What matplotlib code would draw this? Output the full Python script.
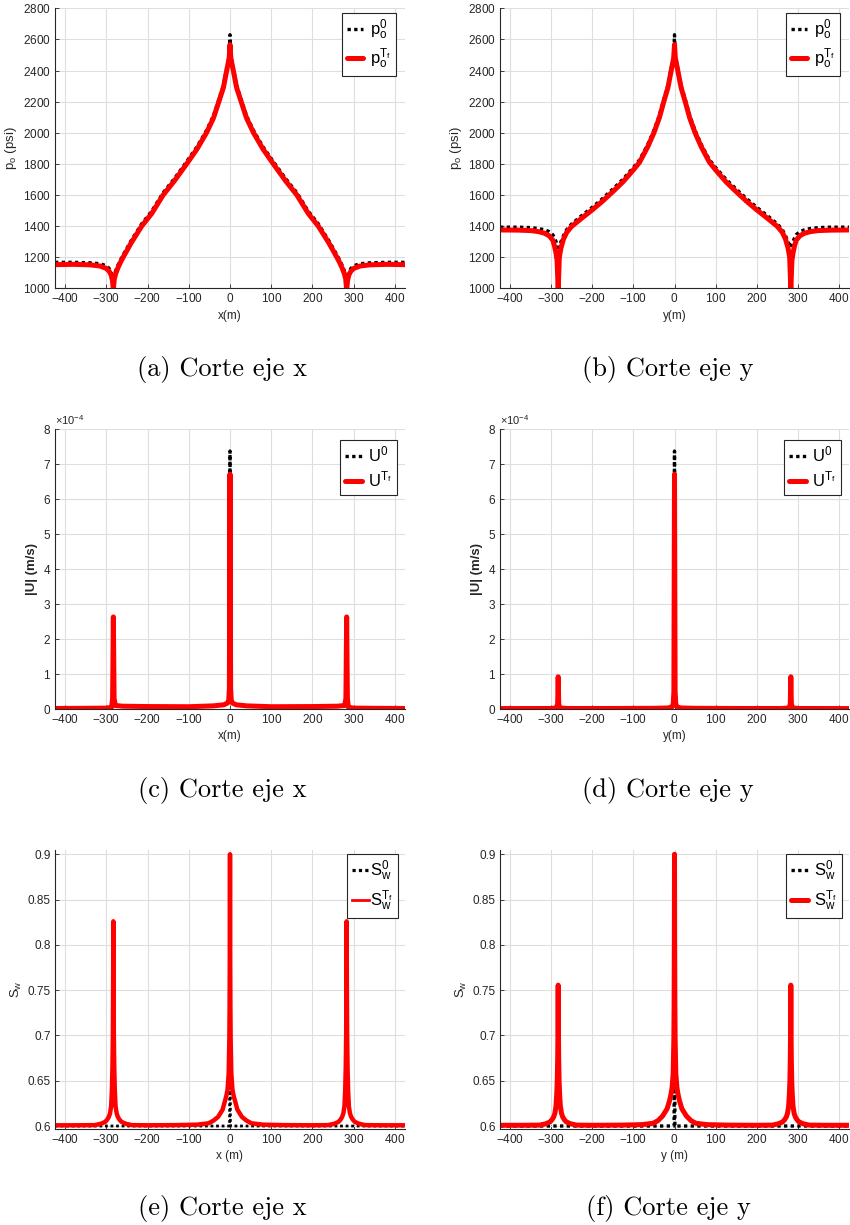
import numpy as np
import matplotlib
matplotlib.use("Agg")
import matplotlib.pyplot as plt
from matplotlib.lines import Line2D
from matplotlib.ticker import FuncFormatter, MultipleLocator

plt.rcParams.update({
    "font.family": ["Liberation Sans", "DejaVu Sans"],
    "mathtext.fontset": "custom",
    "mathtext.rm": "Liberation Sans",
    "mathtext.it": "Liberation Sans",
    "mathtext.bf": "Liberation Sans:bold",
    "mathtext.default": "regular",
    "axes.unicode_minus": False,
    "axes.formatter.use_mathtext": True,
})

# ---------------------------------------------------------------------------
# Half profiles (distance from the central well, m). Profiles are symmetric
# about the central well and are mirrored when plotted.
# ---------------------------------------------------------------------------
XMAX = 424.26

# (a) oil pressure along x (psi)
xa = [0, 2, 8, 16, 27, 40, 57, 80, 105, 135, 162, 190, 214, 240, 259, 265, 272,
      277, 280.5, 282.8, 285, 288, 293, 300, 315, 340, 380, 424.26]
pa_tf = [2567, 2480, 2400, 2290, 2200, 2095, 2000, 1895, 1800, 1690, 1600, 1480,
         1400, 1290, 1200, 1170, 1130, 1095, 1060, 990, 1050, 1085, 1110, 1128,
         1143, 1151, 1154, 1152]
pa_0 = [2630, 2495, 2415, 2305, 2215, 2110, 2015, 1910, 1815, 1705, 1615, 1495,
        1415, 1305, 1215, 1185, 1147, 1115, 1085, 1040, 1075, 1105, 1128, 1145,
        1158, 1164, 1167, 1167]

# (b) oil pressure along y (psi)
xb = [0, 2, 8, 16, 26, 37, 50, 65, 85, 100, 125, 150, 175, 200, 225, 250, 262,
      270, 276, 280, 282.8, 285.5, 288, 292, 296, 305, 316, 330, 349, 380, 424.26]
pb_tf = [2567, 2480, 2400, 2290, 2200, 2095, 2000, 1910, 1810, 1761, 1685, 1621,
         1560, 1504, 1452, 1398, 1360, 1315, 1260, 1200, 990, 1180, 1225, 1275,
         1310, 1338, 1354, 1364, 1371, 1374, 1375]
pb_0 = [2630, 2495, 2415, 2305, 2215, 2110, 2015, 1925, 1826, 1777, 1702, 1638,
        1577, 1521, 1469, 1414, 1378, 1338, 1300, 1275, 1262, 1282, 1300, 1325,
        1345, 1365, 1376, 1384, 1390, 1393, 1393]

# (c) velocity magnitude along x (1e-4 m/s)
xc = [0, 1.5, 3, 6, 15, 40, 100, 200, 260, 278, 281, 282.8, 284.6, 287, 300,
      350, 424.26]
uc_tf = [6.71, 0.6, 0.25, 0.17, 0.12, 0.09, 0.065, 0.07, 0.08, 0.1, 0.3, 2.63,
         0.3, 0.05, 0.025, 0.02, 0.015]
uc_0 = [7.37, 0.6, 0.25, 0.17, 0.12, 0.09, 0.065, 0.07, 0.08, 0.1, 0.3, 2.63,
        0.3, 0.05, 0.025, 0.02, 0.015]

# (d) velocity magnitude along y (1e-4 m/s)
xd = [0, 1.5, 3, 6, 15, 50, 150, 260, 279, 281.5, 282.8, 284.1, 287, 300, 424.26]
ud_tf = [6.71, 0.5, 0.15, 0.06, 0.03, 0.02, 0.015, 0.015, 0.03, 0.15, 0.92, 0.15,
         0.03, 0.015, 0.012]
ud_0 = [7.37, 0.5, 0.15, 0.06, 0.03, 0.02, 0.015, 0.015, 0.03, 0.15, 0.92, 0.15,
        0.03, 0.015, 0.012]

# (e) water saturation along x
xe = [0, 0.4, 1, 1.6, 3.2, 6, 9, 12, 18, 29, 40, 52, 80, 130, 200,
      237.8, 252.8, 262.8, 267.8, 271.8, 274.8, 277.5, 279.3, 280.6, 281.6, 282.3,
      282.8,
      283.3, 284.0, 285.0, 286.3, 288.1, 290.8, 293.8, 297.8, 302.8, 312.8, 327.8,
      370, 424.26]
swe_tf = [0.9, 0.80, 0.73, 0.695, 0.658, 0.64, 0.633, 0.628, 0.618, 0.610, 0.606,
          0.603, 0.6015, 0.601, 0.6008,
          0.601, 0.6025, 0.6045, 0.607, 0.610, 0.614, 0.622, 0.64, 0.665, 0.70, 0.76,
          0.826,
          0.76, 0.70, 0.665, 0.64, 0.622, 0.614, 0.610, 0.607, 0.6045, 0.6025, 0.601,
          0.6008, 0.6008]
xe0 = [0, 1, 424.26]
swe_0 = [0.9, 0.6, 0.6]

# (f) water saturation along y
xf = [0, 0.4, 1, 1.6, 3.2, 6, 9, 12, 18, 29, 40, 52, 80, 130, 200,
      237.8, 252.8, 262.8, 267.8, 271.8, 274.8, 277.5, 279.3, 280.6, 281.6, 282.3,
      282.8,
      283.3, 284.0, 285.0, 286.3, 288.1, 290.8, 293.8, 297.8, 302.8, 312.8, 327.8,
      370, 424.26]
swf_tf = [0.9, 0.80, 0.73, 0.695, 0.658, 0.642, 0.634, 0.628, 0.619, 0.611, 0.606,
          0.603, 0.6015, 0.601, 0.6008,
          0.601, 0.6025, 0.6045, 0.607, 0.610, 0.614, 0.622, 0.635, 0.65, 0.675, 0.71,
          0.7555,
          0.71, 0.675, 0.65, 0.635, 0.622, 0.614, 0.610, 0.607, 0.6045, 0.6025, 0.601,
          0.6008, 0.6008]
xf0 = [0, 1, 424.26]
swf_0 = [0.9, 0.6, 0.6]

captions = ["(a) Corte eje x", "(b) Corte eje y", "(c) Corte eje x",
            "(d) Corte eje y", "(e) Corte eje x", "(f) Corte eje y"]


def mirror(x, y):
    x = np.asarray(x, float)
    y = np.asarray(y, float)
    return np.concatenate([-x[::-1], x[1:]]), np.concatenate([y[::-1], y[1:]])


W, H = 850, 1225
fig = plt.figure(figsize=(W / 100, H / 100), dpi=100)


def rect(l, r, t, b):
    return [l / W, 1 - b / H, (r - l) / W, (b - t) / H]


AX = "#262626"
RED = "#ff0000"
SQ = dict(color="black", lw=2.4, ls=(0, (1, 1)), dash_capstyle="butt",
          dash_joinstyle="round")
RL = dict(color=RED, lw=3.6, solid_capstyle="round", solid_joinstyle="round")


def style(ax, ylim, yticks, xlabel, ylabel, bold=False):
    ax.set_xlim(-XMAX, XMAX)
    ax.set_ylim(*ylim)
    ax.set_yticks(yticks)
    ax.xaxis.set_major_locator(MultipleLocator(100))
    for s in ("top", "right"):
        ax.spines[s].set_visible(False)
    for s in ("left", "bottom"):
        ax.spines[s].set_color(AX)
        ax.spines[s].set_linewidth(0.8)
    ax.tick_params(direction="in", length=3, width=0.6, colors=AX,
                   labelsize=8.5, pad=3)
    ax.grid(True, color="#dedede", lw=0.8)
    ax.set_axisbelow(True)
    ax.set_xlabel(xlabel, fontsize=8.5, color=AX, labelpad=3)
    ax.set_ylabel(ylabel, fontsize=9.5, color=AX,
                  fontweight="bold" if bold else "normal", labelpad=3)


def legend(ax, handles, labels, anchor, hl=1.0, htp=0.4):
    lg = ax.legend(handles, labels, loc="upper right",
                   bbox_to_anchor=(anchor[0] / W, 1 - anchor[1] / H),
                   bbox_transform=fig.transFigure, fontsize=12,
                   frameon=True, fancybox=False, framealpha=1,
                   edgecolor=AX, handlelength=hl, handletextpad=htp,
                   borderpad=0.3, labelspacing=0.3, borderaxespad=0)
    lg.get_frame().set_linewidth(0.8)
    return lg


rows = [(8.3, 288.3), (429, 709), (850, 1129)]
cols = [(55, 405), (500, 849)]

# ---- pressure ----
for j, (xs, p0, ptf, lab) in enumerate([(xa, pa_0, pa_tf, "x(m)"),
                                        (xb, pb_0, pb_tf, "y(m)")]):
    ax = fig.add_axes(rect(cols[j][0], cols[j][1], *rows[0]))
    l0, = ax.plot(*mirror(xs, p0), **SQ)
    l1, = ax.plot(*mirror(xs, ptf), **RL)
    style(ax, (1000, 2800), np.arange(1000, 2801, 200), lab, r"$p_o$ (psi)")
    legend(ax, [l0, l1], [r"$p_o^0$", r"$p_o^{T_f}$"],
           (cols[j][1] - 9, 12.5))

# ---- velocity ----
for j, (xs, u0, utf, lab) in enumerate([(xc, uc_0, uc_tf, "x(m)"),
                                        (xd, ud_0, ud_tf, "y(m)")]):
    ax = fig.add_axes(rect(cols[j][0], cols[j][1], *rows[1]))
    mx, my0 = mirror(xs, u0)
    _, my1 = mirror(xs, utf)
    l0, = ax.plot(mx, my0 * 1e-4, **SQ)
    l1, = ax.plot(mx, my1 * 1e-4, **RL)
    style(ax, (0, 8e-4), np.arange(0, 8.01e-4, 1e-4), lab, "|U| (m/s)", bold=True)
    ax.ticklabel_format(axis="y", style="sci", scilimits=(-4, -4))
    ax.yaxis.get_offset_text().set_fontsize(8)
    ax.yaxis.get_offset_text().set_color(AX)
    legend(ax, [l0, l1], [r"$U^0$", r"$U^{T_f}$"], (cols[j][1] - 8, 440))

# ---- saturation ----
sat = [(xe, swe_tf, xe0, swe_0, "x (m)"), (xf, swf_tf, xf0, swf_0, "y (m)")]
for j, (xs, stf, xs0, s0, lab) in enumerate(sat):
    ax = fig.add_axes(rect(cols[j][0], cols[j][1], *rows[2]))
    if j == 0:
        l0, = ax.plot(*mirror(xs0, s0), color="black", lw=2.0, ls=(0, (1, 1)))
        l1, = ax.plot(*mirror(xs, stf), **dict(RL, lw=3.2))
        h0 = Line2D([], [], color="black", lw=2.3, ls=(0, (1, 1)))
        h1 = Line2D([], [], color=RED, lw=2.0)
        legend(ax, [h0, h1], [r"$S_w^0$", r"$S_w^{T_f}$"], (398, 854),
               hl=1.05, htp=0.05)
    else:
        l0, = ax.plot(*mirror(xs0, s0), **SQ)
        l1, = ax.plot(*mirror(xs, stf), **RL)
        legend(ax, [l0, l1], [r"$S_w^0$", r"$S_w^{T_f}$"], (842, 854))
    style(ax, (0.5967, 0.9047), np.arange(0.6, 0.901, 0.05), lab, r"$S_w$")
    ax.yaxis.set_major_formatter(FuncFormatter(lambda v, p: f"{v:g}"))

# ---- sub-captions ----
cap_y = [369, 790, 1209]
cap_x = [222, 668]
for k, txt in enumerate(captions):
    fig.text(cap_x[k % 2] / W, 1 - cap_y[k // 2] / H, txt, family="cmr10",
             fontsize=19, ha="center", va="center", color="black")

fig.savefig("out.png", dpi=100, facecolor="white")
